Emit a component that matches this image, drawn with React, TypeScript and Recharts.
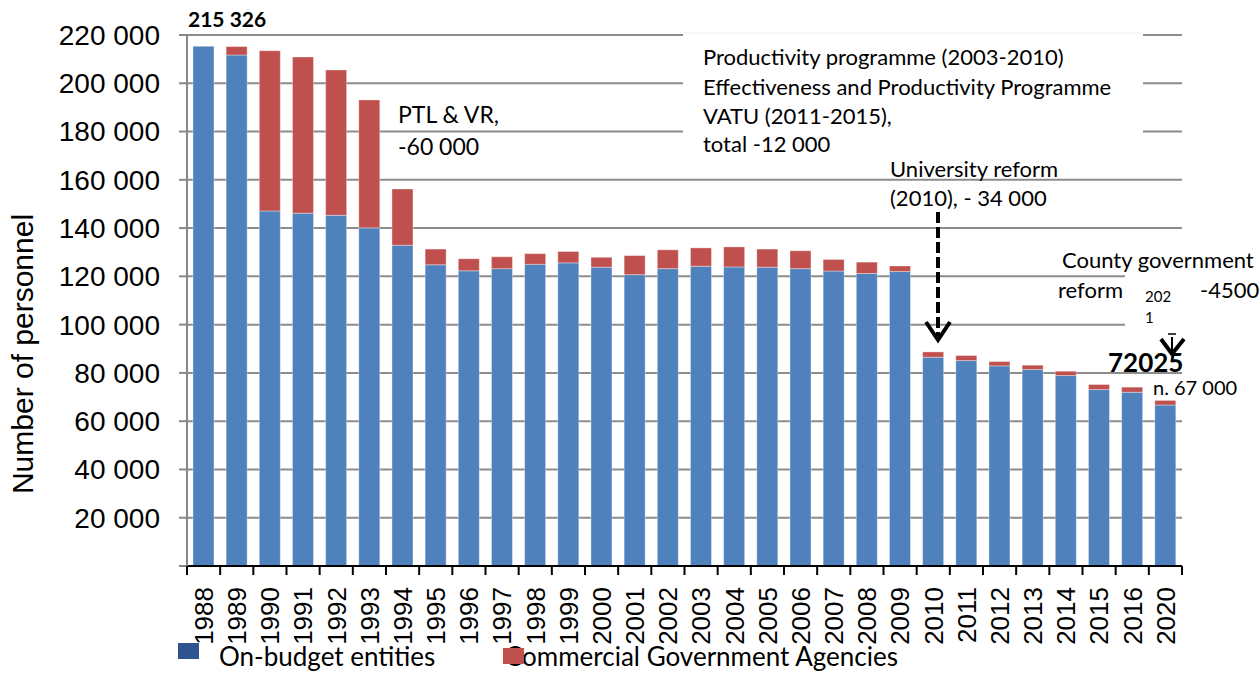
import React from 'react';
import { BarChart, Bar, XAxis, YAxis, CartesianGrid } from 'recharts';

const years = [
  '1988', '1989', '1990', '1991', '1992', '1993', '1994', '1995', '1996', '1997',
  '1998', '1999', '2000', '2001', '2002', '2003', '2004', '2005', '2006', '2007',
  '2008', '2009', '2010', '2011', '2012', '2013', '2014', '2015', '2016', '2020',
];

const onBudget = [
  215326, 211700, 147100, 146200, 145300, 140100, 132900, 124800, 122300, 123200,
  125000, 125600, 123800, 120700, 123200, 124200, 123900, 123800, 123200, 122200,
  121200, 122000, 86500, 85100, 82900, 81400, 78900, 73100, 72000, 66700,
];

const commercial = [
  0, 3500, 66400, 64700, 60200, 53000, 23300, 6500, 5000, 4900,
  4400, 4700, 4100, 7900, 7800, 7600, 8300, 7500, 7400, 4800,
  4700, 2300, 2200, 2100, 1800, 1800, 1800, 2100, 2100, 1900,
];

const yTicks = [0, 20000, 40000, 60000, 80000, 100000, 120000, 140000, 160000, 180000, 200000, 220000];

const series = [
  { key: 'onBudget', name: 'On-budget entities', color: '#4F81BD', legendColor: '#2F5391' },
  { key: 'commercial', name: 'Commercial Government Agencies', color: '#C0504D', legendColor: '#C0504D' },
];

const data = years.map((year, i) => ({ year, onBudget: onBudget[i], commercial: commercial[i] }));

const axisFont = '"Liberation Sans", Arial, sans-serif';
const noteFont = 'Lato, "Noto Sans", sans-serif';

const fmt = (v: number) => (v === 0 ? '' : v.toLocaleString('en-US').replace(/,/g, ' '));

function YearTick(props: any) {
  const { x, y, payload, index } = props;
  const half = payload && payload.offset ? payload.offset : 995 / years.length / 2;
  const axisY = y - 21;
  return (
    <g>
      <line x1={x - half} x2={x - half} y1={axisY} y2={axisY + 9} stroke="#000" strokeWidth={2} />
      {index === years.length - 1 && (
        <line x1={x + half} x2={x + half} y1={axisY} y2={axisY + 9} stroke="#000" strokeWidth={2} />
      )}
      <text
        x={x}
        y={y}
        transform={`rotate(-90 ${x} ${y})`}
        textAnchor="end"
        dy="0.36em"
        fontSize={26}
        fontFamily={axisFont}
        fill="#000"
      >
        {payload.value}
      </text>
    </g>
  );
}

function Notes() {
  const t = { fontFamily: noteFont, fill: '#000' };
  return (
    <svg width={1260} height={673} style={{ position: 'absolute', left: 0, top: 0, pointerEvents: 'none' }}>
      {/* white boxes behind the text notes */}
      <rect x={683} y={33} width={460} height={125} fill="#fff" />
      <line x1={683} x2={1143} y1={33} y2={33} stroke="#f0f0f0" strokeWidth={1} />
      <rect x={1125} y={248} width={70} height={88} fill="#fff" />

      <text x={33} y={354} transform="rotate(-90 33 354)" textAnchor="middle" fontSize={30} fontFamily={axisFont}>
        Number of personnel
      </text>

      <text x={188} y={27} fontSize={21} fontWeight="bold" {...t}>215 326</text>
      <text x={398} y={123} fontSize={23} {...t}>PTL &amp; VR,</text>
      <text x={398} y={155} fontSize={23} {...t}>-60 000</text>

      <text x={703} y={65} fontSize={22} {...t}>Productivity programme (2003-2010)</text>
      <text x={703} y={95} fontSize={22} {...t}>Effectiveness and Productivity Programme</text>
      <text x={703} y={124} fontSize={22} {...t}>VATU (2011-2015),</text>
      <text x={703} y={152} fontSize={22} {...t}>total -12 000</text>

      <text x={890} y={177} fontSize={22} {...t}>University reform</text>
      <text x={890} y={206} fontSize={22} {...t}>(2010), - 34 000</text>
      <line x1={938} x2={938} y1={212} y2={336} stroke="#000" strokeWidth={4} strokeDasharray="11 4" />
      <polyline points="926,322 938,340 950,322" fill="none" stroke="#000" strokeWidth={4} />

      <text x={1062} y={268} fontSize={22} {...t}>County government</text>
      <text x={1058} y={298} fontSize={22} {...t}>reform</text>
      <text x={1145} y={302} fontSize={15} {...t}>202</text>
      <text x={1145} y={323} fontSize={15} {...t}>1</text>
      <text x={1200} y={298} fontSize={22} {...t}>-4500</text>

      <line x1={1168} x2={1176} y1={334} y2={334} stroke="#000" strokeWidth={1.5} />
      <line x1={1172} x2={1172} y1={337} y2={353} stroke="#000" strokeWidth={2} />
      <polyline points="1161,339 1172,354 1184,339" fill="none" stroke="#000" strokeWidth={4} />
      <text x={1108} y={372} fontSize={26} fontWeight="bold" {...t}>72025</text>
      <text x={1153} y={395} fontSize={20} {...t}>n. 67 000</text>

      {series.map((s, i) => {
        const sx = i === 0 ? 178 : 503;
        const sy = i === 0 ? 643 : 648;
        return (
          <g key={s.key}>
            <text x={sx + (i === 0 ? 41 : 2)} y={666} fontSize={26} {...t}>{s.name}</text>
            <rect x={sx} y={sy} width={21} height={16} fill={s.legendColor} />
          </g>
        );
      })}
    </svg>
  );
}

export default function App() {
  return (
    <div style={{ position: 'relative', width: 1260, height: 673, overflow: 'hidden', background: '#fff' }}>
      <style>{'body{margin:0}'}</style>
      <BarChart
        width={1260}
        height={673}
        data={data}
        margin={{ top: 35, right: 78, left: 0, bottom: 7 }}
        barCategoryGap="18%"
      >
        <CartesianGrid vertical={false} stroke="#8c8c8c" strokeWidth={2} />
        <XAxis
          dataKey="year"
          height={100}
          interval={0}
          tickSize={0}
          tickMargin={21}
          tickLine={false}
          axisLine={{ stroke: '#000', strokeWidth: 2 }}
          tick={<YearTick />}
        />
        <YAxis
          width={187}
          domain={[0, 220000]}
          ticks={yTicks}
          interval={0}
          tickFormatter={fmt}
          tickSize={8}
          tickMargin={19}
          axisLine={{ stroke: '#888', strokeWidth: 2 }}
          tickLine={{ stroke: '#888', strokeWidth: 2 }}
          tick={{ fontSize: 28, fill: '#000', fontFamily: axisFont }}
        />
        {series.map((s) => (
          <Bar
            key={s.key}
            dataKey={s.key}
            name={s.name}
            stackId="personnel"
            fill={s.color}
            stroke="#ffffff"
            strokeOpacity={0.35}
            strokeWidth={1}
            isAnimationActive={false}
          />
        ))}
      </BarChart>
      <Notes />
    </div>
  );
}
